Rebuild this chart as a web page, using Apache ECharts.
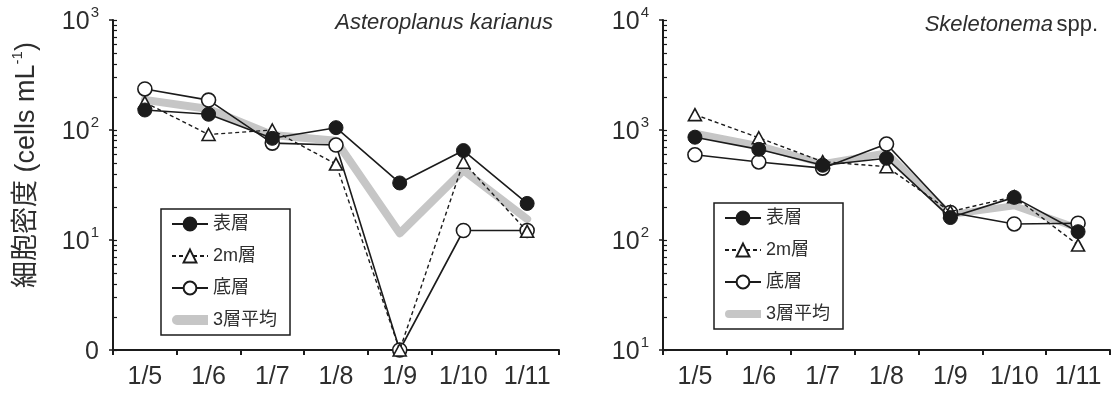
<!DOCTYPE html>
<html>
<head>
<meta charset="utf-8">
<script src="https://cdn.jsdelivr.net/npm/echarts@6/dist/echarts.min.js"></script>
<style>
  html, body { margin: 0; padding: 0; background: #ffffff; }
  #chart { width: 1119px; height: 394px; }
</style>
</head>
<body>
<div id="chart"></div>
<script>
// Sampling dates (shared by both panels)
const categories = ['1/5', '1/6', '1/7', '1/8', '1/9', '1/10', '1/11'];

// Series names (legend order)
const seriesNames = ['表層', '2m層', '底層', '3層平均'];

// Asteroplanus karianus, cells mL-1 (0 = not detected)
const akSurface = [152, 139, 84, 105, 33, 65, 21.5];
const ak2m      = [178, 91, 100, 49, 0, 51, 12];
const akBottom  = [236, 187, 76, 73, 0, 12.2, 12.2];
const akMean    = [188, 155, 90, 80, 11.5, 43, 15.5];

// Skeletonema spp., cells mL-1
const skSurface = [860, 667, 478, 553, 160, 244, 119];
const sk2m      = [1380, 850, 515, 464, 181, 248, 90];
const skBottom  = [595, 512, 450, 745, 178, 140, 142];
const skMean    = [935, 720, 495, 620, 170, 205, 128];

// Panel titles and axis title
const titleLeft = 'Asteroplanus karianus';
const titleRightItalic = 'Skeletonema';
const titleRightPlain = 'spp.';
const yTitleMain = '細胞密度 (cells mL';
const yTitleSup = '-1';
const yTitleEnd = ')';

// Log-axis ranges
const akRange = [1, 1000];     // bottom row (10^0) is labelled "0"
const skRange = [10, 10000];

const FONT = '"Liberation Sans", Arial, "Noto Sans CJK JP", sans-serif';
const INK = '#1b1b1b';
const TEXT = '#2e2e2e';
const MEAN_GREY = '#c6c6c6';

// tick positions 1..9 of every decade inside a log range
function decadeTicks(range) {
  const out = [];
  for (let d = range[0]; d < range[1]; d *= 10) {
    for (let k = 1; k < 10; k++) out.push(d * k);
  }
  out.push(range[1]);
  return out;
}

function powerLabel(zeroAtFloor, floor) {
  return function (v) {
    if (zeroAtFloor && Math.abs(v - floor) < 1e-9) return '{b|0}';
    const e = Math.round(Math.log10(v));
    return '{b|10}{s|' + e + '}';
  };
}

const labelRich = {
  b: { fontSize: 25, fontFamily: FONT, color: TEXT, lineHeight: 30, verticalAlign: 'bottom' },
  s: { fontSize: 15, fontFamily: FONT, color: TEXT, lineHeight: 30, verticalAlign: 'top', padding: [0, 0, 0, 1] }
};

function xAxisFor(gridIndex) {
  return {
    type: 'category', gridIndex, data: categories, boundaryGap: true,
    axisLine: { show: true, lineStyle: { color: INK, width: 2 } },
    axisTick: { show: true, length: 5, inside: false, lineStyle: { color: INK, width: 2 } },
    axisLabel: { fontSize: 25, fontFamily: FONT, color: TEXT, margin: 15 },
    splitLine: { show: false }
  };
}

function yAxisMain(gridIndex, range, zeroAtFloor) {
  return {
    type: 'log', logBase: 10, gridIndex, position: 'left', min: range[0], max: range[1],
    axisLine: { show: true, onZero: false, lineStyle: { color: INK, width: 2 } },
    axisTick: { show: true, length: 4, inside: false, lineStyle: { color: INK, width: 1.5 } },
    axisLabel: { formatter: powerLabel(zeroAtFloor, range[0]), rich: labelRich, margin: 14 },
    splitLine: { show: false }
  };
}

// companion axis on the same side that carries the inward decade ticks
function yAxisMinor(gridIndex, range) {
  return {
    type: 'log', logBase: 10, gridIndex, position: 'left', offset: 0,
    min: range[0], max: range[1],
    axisLine: { show: false, onZero: false },
    axisLabel: { show: false },
    axisTick: { show: true, inside: true, length: 4, customValues: decadeTicks(range),
                lineStyle: { color: INK, width: 1.2 } },
    splitLine: { show: false }
  };
}

// zero counts are drawn on the bottom row of the axis
function toAxis(values, floor) {
  return values.map(v => (v === 0 ? floor : v));
}

function makeSeries(kind, data, axisIdx, floor, meanWidth) {
  const base = {
    type: 'line', xAxisIndex: axisIdx, yAxisIndex: axisIdx * 2,
    data: toAxis(data, floor), clip: false, animation: false, silent: true
  };
  if (kind === 0) {
    return Object.assign(base, {
      name: seriesNames[0], z: 5, symbol: 'circle', symbolSize: 14,
      itemStyle: { color: INK, borderColor: INK, borderWidth: 1 },
      lineStyle: { color: INK, width: 1.6 }
    });
  }
  if (kind === 1) {
    return Object.assign(base, {
      name: seriesNames[1], z: 4, symbol: 'triangle', symbolSize: [13, 12],
      itemStyle: { color: '#ffffff', borderColor: INK, borderWidth: 1.6 },
      lineStyle: { color: INK, width: 1.4, type: [4, 3] }
    });
  }
  if (kind === 2) {
    return Object.assign(base, {
      name: seriesNames[2], z: 3, symbol: 'circle', symbolSize: 14,
      itemStyle: { color: '#ffffff', borderColor: INK, borderWidth: 1.6 },
      lineStyle: { color: INK, width: 1.6 }
    });
  }
  return Object.assign(base, {
    name: seriesNames[3], z: 1, symbol: 'none', showSymbol: false,
    itemStyle: { color: MEAN_GREY },
    lineStyle: { color: MEAN_GREY, width: meanWidth, cap: 'round', join: 'round' }
  });
}

// thick grey bar for the mean entry; the zero-length end segments pin the box height
function meanIcon(barH) {
  const top = (16 - barH) / 2, bot = top + barH;
  return 'path://M0,0L0.01,0M' + (barH / 2) + ',' + top + 'L36,' + top + 'L36,' + bot +
         'L' + (barH / 2) + ',' + bot + 'A' + (barH / 2) + ',' + (barH / 2) + ' 0 0 1 ' +
         (barH / 2) + ',' + top + 'ZM0,16L0.01,16';
}

function legendFor(left, top, barH) {
  return {
    show: true, orient: 'vertical', left, top,
    data: [
      { name: seriesNames[0] },
      { name: seriesNames[1] },
      { name: seriesNames[2] },
      { name: seriesNames[3], icon: meanIcon(barH), itemStyle: { color: MEAN_GREY, borderWidth: 0 } }
    ],
    selectedMode: false,
    itemWidth: 36, itemHeight: 16, itemGap: 14,
    padding: [6, 13, 6, 10],
    borderColor: INK, borderWidth: 1.5, backgroundColor: '#ffffff',
    textStyle: { fontSize: 18, fontFamily: FONT, color: TEXT, lineHeight: 18 }
  };
}

const chart = echarts.init(document.getElementById('chart'), null, { renderer: 'canvas' });

chart.setOption({
  animation: false,
  backgroundColor: '#ffffff',
  grid: [
    { left: 113, top: 20, width: 446, height: 330, containLabel: false },
    { left: 663, top: 20, width: 447, height: 330, containLabel: false }
  ],
  xAxis: [xAxisFor(0), xAxisFor(1)],
  yAxis: [
    yAxisMain(0, akRange, true), yAxisMinor(0, akRange),
    yAxisMain(1, skRange, false), yAxisMinor(1, skRange)
  ],
  legend: [legendFor(161, 209, 10), legendFor(714, 203, 8)],
  series: [
    makeSeries(3, akMean, 0, akRange[0], 8),
    makeSeries(2, akBottom, 0, akRange[0]),
    makeSeries(1, ak2m, 0, akRange[0]),
    makeSeries(0, akSurface, 0, akRange[0]),
    makeSeries(3, skMean, 1, skRange[0], 7),
    makeSeries(2, skBottom, 1, skRange[0]),
    makeSeries(1, sk2m, 1, skRange[0]),
    makeSeries(0, skSurface, 1, skRange[0])
  ],
  graphic: [
    {
      type: 'text', x: 25, y: 165, rotation: Math.PI / 2, silent: true,
      style: {
        text: '{a|' + yTitleMain + '}{s|' + yTitleSup + '}{a|' + yTitleEnd + '}',
        align: 'center', verticalAlign: 'middle',
        rich: {
          a: { fontSize: 27, fontFamily: FONT, fill: TEXT, lineHeight: 30, verticalAlign: 'bottom' },
          s: { fontSize: 15, fontFamily: FONT, fill: TEXT, lineHeight: 30, verticalAlign: 'top' }
        }
      }
    },
    {
      type: 'text', x: 553, y: 23, silent: true,
      style: {
        text: titleLeft, align: 'right', verticalAlign: 'middle',
        font: 'italic 22px ' + FONT, fill: TEXT
      }
    },
    {
      type: 'text', x: 1098, y: 25, silent: true,
      style: {
        text: '{i|' + titleRightItalic + '} {n|' + titleRightPlain + '}',
        align: 'right', verticalAlign: 'middle',
        rich: {
          i: { fontSize: 22, fontStyle: 'italic', fontFamily: FONT, fill: TEXT },
          n: { fontSize: 22, fontFamily: FONT, fill: TEXT }
        }
      }
    }
  ]
});
</script>
</body>
</html>
